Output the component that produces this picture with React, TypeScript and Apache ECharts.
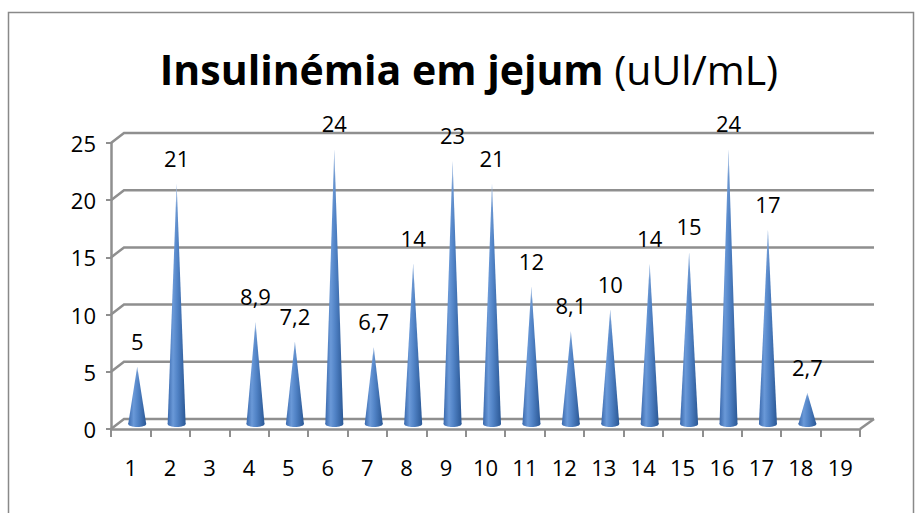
import React, { useEffect, useRef } from "react";
import * as echarts from "echarts";

const categories = ["1", "2", "3", "4", "5", "6", "7", "8", "9", "10", "11", "12", "13", "14", "15", "16", "17", "18", "19"];
const values: (number | null)[] = [5, 21, null, 8.9, 7.2, 24, 6.7, 14, 23, 21, 12, 8.1, 10, 14, 15, 24, 17, 2.7, null];
const yTicks = [0, 5, 10, 15, 20, 25];
const titleBold = "Insulinémia em jejum";
const titleNormal = "(uUl/mL)";

const FONT = "'Open Sans', 'DejaVu Sans', sans-serif";
const GRID_COLOR = "#8f8f8f";
const DEPTH_X = 13;
const DEPTH_Y = -10;

function fmt(v: number) {
  return String(v).replace(".", ",");
}

export default function App() {
  const ref = useRef<HTMLDivElement>(null);
  useEffect(() => {
    document.body.style.margin = "0";
    if (!ref.current) return;
    const chart = echarts.init(ref.current, undefined, { renderer: "svg" });

    const coneData = values
      .map((v, i) => [i, v])
      .filter((d) => d[1] !== null) as number[][];

    const option: any = {
      animation: false,
      backgroundColor: "#ffffff",
      grid: { left: 111, right: 55, top: 143, bottom: 84 },
      graphic: [
        {
          type: "rect",
          shape: { x: 8.5, y: 12.5, width: 905, height: 520 },
          style: { fill: "none", stroke: "#898989", lineWidth: 1.5 },
          z: 0,
        },
        {
          type: "text",
          x: 469,
          y: 69,
          style: {
            text: `{b|${titleBold}\u00a0}{n|${titleNormal}}`,
            align: "center",
            verticalAlign: "middle",
            rich: {
              b: { fontFamily: FONT, fontSize: 41, fontWeight: "bold", fill: "#000" },
              n: { fontFamily: FONT, fontSize: 41, fontWeight: "normal", fill: "#000" },
            },
          },
        },
      ],
      xAxis: {
        type: "category",
        data: categories,
        boundaryGap: true,
        axisLine: { show: true, lineStyle: { color: GRID_COLOR, width: 2.5 } },
        axisTick: { show: true, length: 8, lineStyle: { color: GRID_COLOR, width: 2 } },
        axisLabel: { fontFamily: FONT, fontSize: 22, color: "#000", margin: 27, interval: 0 },
        splitLine: { show: false },
      },
      yAxis: {
        type: "value",
        min: 0,
        max: 25,
        interval: 5,
        axisLine: { show: true, lineStyle: { color: GRID_COLOR, width: 2.5 } },
        axisTick: { show: true, length: 5, lineStyle: { color: GRID_COLOR, width: 2 } },
        axisLabel: { fontFamily: FONT, fontSize: 22, color: "#000", margin: 15 },
        splitLine: { show: false },
      },
      series: [
        {
          type: "custom",
          name: "wall",
          z: 1,
          clip: false,
          silent: true,
          data: [[0, 0]],
          renderItem: (params: any, api: any) => {
            const bw = api.size([1, 0])[0];
            const xl = api.coord([0, 0])[0] - bw / 2;
            const xr = api.coord([categories.length - 1, 0])[0] + bw / 2;
            const children: any[] = [];
            const ls = { stroke: GRID_COLOR, lineWidth: 2.5, fill: "none" };
            yTicks.forEach((t) => {
              const y = api.coord([0, t])[1];
              children.push({
                type: "polyline",
                shape: { points: [[xl, y], [xl + DEPTH_X, y + DEPTH_Y], [xr + DEPTH_X + 1, y + DEPTH_Y]] },
                style: ls,
              });
            });
            const y0 = api.coord([0, 0])[1];
            children.push({
              type: "line",
              shape: { x1: xr, y1: y0, x2: xr + DEPTH_X + 1, y2: y0 + DEPTH_Y },
              style: ls,
            });
            return { type: "group", children };
          },
        },
        {
          type: "custom",
          name: "cones",
          z: 3,
          clip: false,
          data: coneData,
          encode: { x: 0, y: 1 },
          renderItem: (params: any, api: any) => {
            const i = api.value(0);
            const v = api.value(1);
            const top = api.coord([i, v]);
            const base = api.coord([i, 0]);
            const cx = base[0] + DEPTH_X / 2;
            const by = base[1] + DEPTH_Y / 2;
            const ty = top[1] + DEPTH_Y / 2;
            const hw = 9;
            const grad = new echarts.graphic.LinearGradient(0, 0, 1, 0, [
              { offset: 0, color: "#3a69ad" },
              { offset: 0.3, color: "#6a99d8" },
              { offset: 0.55, color: "#5183c6" },
              { offset: 1, color: "#2b5895" },
            ]);
            const fade = new echarts.graphic.LinearGradient(0, 0, 0, 1, [
              { offset: 0, color: "rgba(255,255,255,0.7)" },
              { offset: 0.1, color: "rgba(255,255,255,0.12)" },
              { offset: 0.25, color: "rgba(255,255,255,0)" },
              { offset: 1, color: "rgba(255,255,255,0)" },
            ]);
            return {
              type: "group",
              children: [
                {
                  type: "ellipse",
                  shape: { cx, cy: by, rx: hw, ry: 3 },
                  style: { fill: grad },
                },
                {
                  type: "polygon",
                  shape: { points: [[cx - hw, by], [cx, ty], [cx + hw, by]] },
                  style: { fill: grad },
                },
                {
                  type: "polygon",
                  shape: { points: [[cx - hw, by], [cx, ty], [cx + hw, by]] },
                  style: { fill: fade },
                },
                {
                  type: "text",
                  x: cx,
                  y: ty - 26,
                  style: {
                    text: fmt(v),
                    align: "center",
                    verticalAlign: "middle",
                    fontFamily: FONT,
                    fontSize: 22,
                    fill: "#000",
                  },
                },
              ],
            };
          },
        },
      ],
    };
    chart.setOption(option);
    return () => chart.dispose();
  }, []);
  return <div ref={ref} style={{ position: "absolute", left: 0, top: 0, width: 915, height: 513 }} />;
}
